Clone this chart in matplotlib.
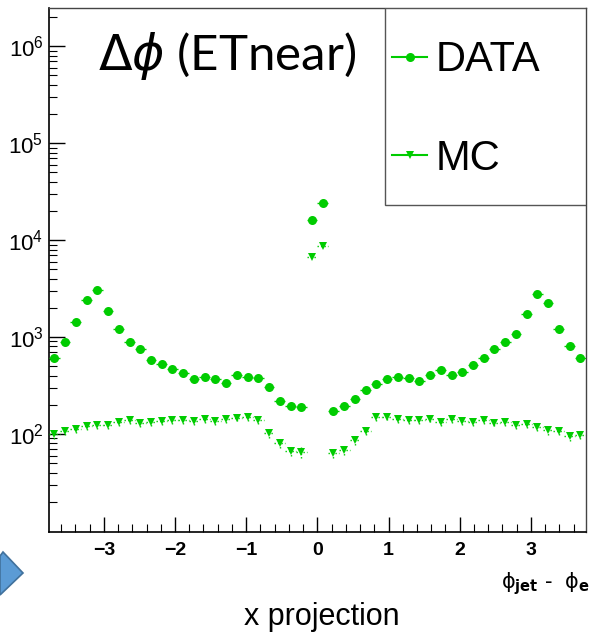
import matplotlib
matplotlib.use('Agg')
import matplotlib.pyplot as plt
import numpy as np
from matplotlib.lines import Line2D
from matplotlib.patches import Rectangle, Polygon
from matplotlib.ticker import MultipleLocator, FixedLocator, FixedFormatter, NullFormatter, LogLocator

plt.rcParams['font.family'] = ['Liberation Sans', 'DejaVu Sans']

# histogram: 50 bins over [-1.2 pi, 1.2 pi]
n_bins = 50
x_lo, x_hi = -1.2 * np.pi, 1.2 * np.pi

data_counts = [612, 897, 1422, 2415, 3041, 1872, 1213, 897, 748, 577,
               524, 472, 426, 370, 390, 372, 338, 403, 387, 376,
               308, 219, 196, 191, 16300, 24400, 171, 196, 228, 287,
               330, 367, 387, 378, 350, 406, 458, 409, 433, 515,
               612, 759, 897, 1077, 1729, 2806, 2265, 1213, 815, 604]

mc_counts = [99, 107, 113, 120, 125, 125, 132, 139, 130, 133,
             135, 139, 140, 136, 143, 136, 143, 147, 149, 139,
             102, 81, 67, 65, 6710, 8770, 64, 69, 86, 107,
             150, 151, 143, 139, 138, 144, 133, 142, 135, 133,
             138, 131, 132, 124, 126, 117, 109, 107, 95, 98]

edges = np.linspace(x_lo, x_hi, n_bins + 1)
centers = 0.5 * (edges[:-1] + edges[1:])
half_w = 0.5 * (edges[1] - edges[0])

green = '#00cc00'

fig = plt.figure(figsize=(5.96, 6.34), dpi=100)
ax = fig.add_axes([49 / 596, 1 - 532 / 634, 536.7 / 596, 524 / 634])

d = np.array(data_counts, float)
m = np.array(mc_counts, float)

eb1 = ax.errorbar(centers, d, xerr=half_w, yerr=np.sqrt(d), fmt='o', color=green,
                  ms=6.5, mew=0, elinewidth=1, capsize=0, zorder=3)
eb2 = ax.errorbar(centers, m, xerr=half_w, yerr=np.sqrt(m), fmt='v', color=green,
                  ms=6.3, mew=0, elinewidth=1, capsize=0, zorder=3)
for lc in eb2[2]:
    lc.set_linestyle((0, (1, 1.5)))

ax.set_yscale('log')
ax.set_xlim(x_lo, x_hi)
ax.set_ylim(9.75, 2.48e6)

ax.xaxis.set_major_locator(MultipleLocator(1))
ax.xaxis.set_minor_locator(MultipleLocator(0.2))
ax.yaxis.set_major_locator(FixedLocator([1e2, 1e3, 1e4, 1e5, 1e6]))
ax.yaxis.set_major_formatter(FixedFormatter([r'$\mathregular{10^{%d}}$' % k for k in range(2, 7)]))
ax.yaxis.set_minor_locator(LogLocator(base=10, subs=np.arange(2, 10)))
ax.yaxis.set_minor_formatter(NullFormatter())

ax.tick_params(axis='x', which='major', direction='in', length=11, width=1, pad=7,
               labelsize=14, top=False)
ax.tick_params(axis='x', which='minor', direction='in', length=5.5, width=0.8, top=False)
ax.tick_params(axis='y', which='major', direction='in', length=11.5, width=1, pad=4,
               labelsize=16, right=False)
ax.tick_params(axis='y', which='minor', direction='in', length=5.8, width=0.8, right=False)
for lab in ax.get_xticklabels():
    lab.set_fontweight('bold')

for s in ['left', 'bottom']:
    ax.spines[s].set_linewidth(1.2)
    ax.spines[s].set_color('black')
for s in ['top', 'right']:
    ax.spines[s].set_linewidth(1.0)
    ax.spines[s].set_color('#444444')

# legend box (ROOT style)
ax.add_patch(Rectangle((0.626, 0.624), 0.374, 0.376, transform=ax.transAxes,
                       facecolor='white', edgecolor='#555555', lw=1.0, zorder=4))
handles = [Line2D([], [], color=green, marker='o', ms=6.5, mew=0, lw=1.5),
           Line2D([], [], color=green, marker='v', ms=6.3, mew=0, lw=1.5)]
ax.legend(handles, ['DATA', 'MC'], loc='upper left', bbox_to_anchor=(0.64, 0.938),
          frameon=False, fontsize=30, handlelength=0.82, handletextpad=0.22,
          labelspacing=1.4, borderpad=0, borderaxespad=0).set_zorder(5)

ax.text(0.092, 0.908, r'$\Delta\phi$ (ETnear)', transform=ax.transAxes, fontsize=35.5,
        family=['Lato', 'DejaVu Sans'], va='center', ha='left', zorder=5)

fig.text(590 / 596, 1 - 584 / 634, 'ϕ$_{\\mathbf{jet}}$ -  ϕ$_{\\mathbf{e}}$', ha='right',
         va='center', fontsize=15, family=['DejaVu Sans'])
fig.text(322 / 596, 1 - 617 / 634, 'x projection', ha='center', va='center', fontsize=22)

# blue arrow shape from slide
fig.patches.append(Polygon([(0, 1 - 556 / 634), (3 / 596, 1 - 552 / 634), (23 / 596, 1 - 573 / 634),
                            (0, 1 - 595 / 634)], closed=True, transform=fig.transFigure,
                           facecolor='#5b9bd5', edgecolor='#41719c', lw=1.2))

fig.savefig('out.png', dpi=100)
